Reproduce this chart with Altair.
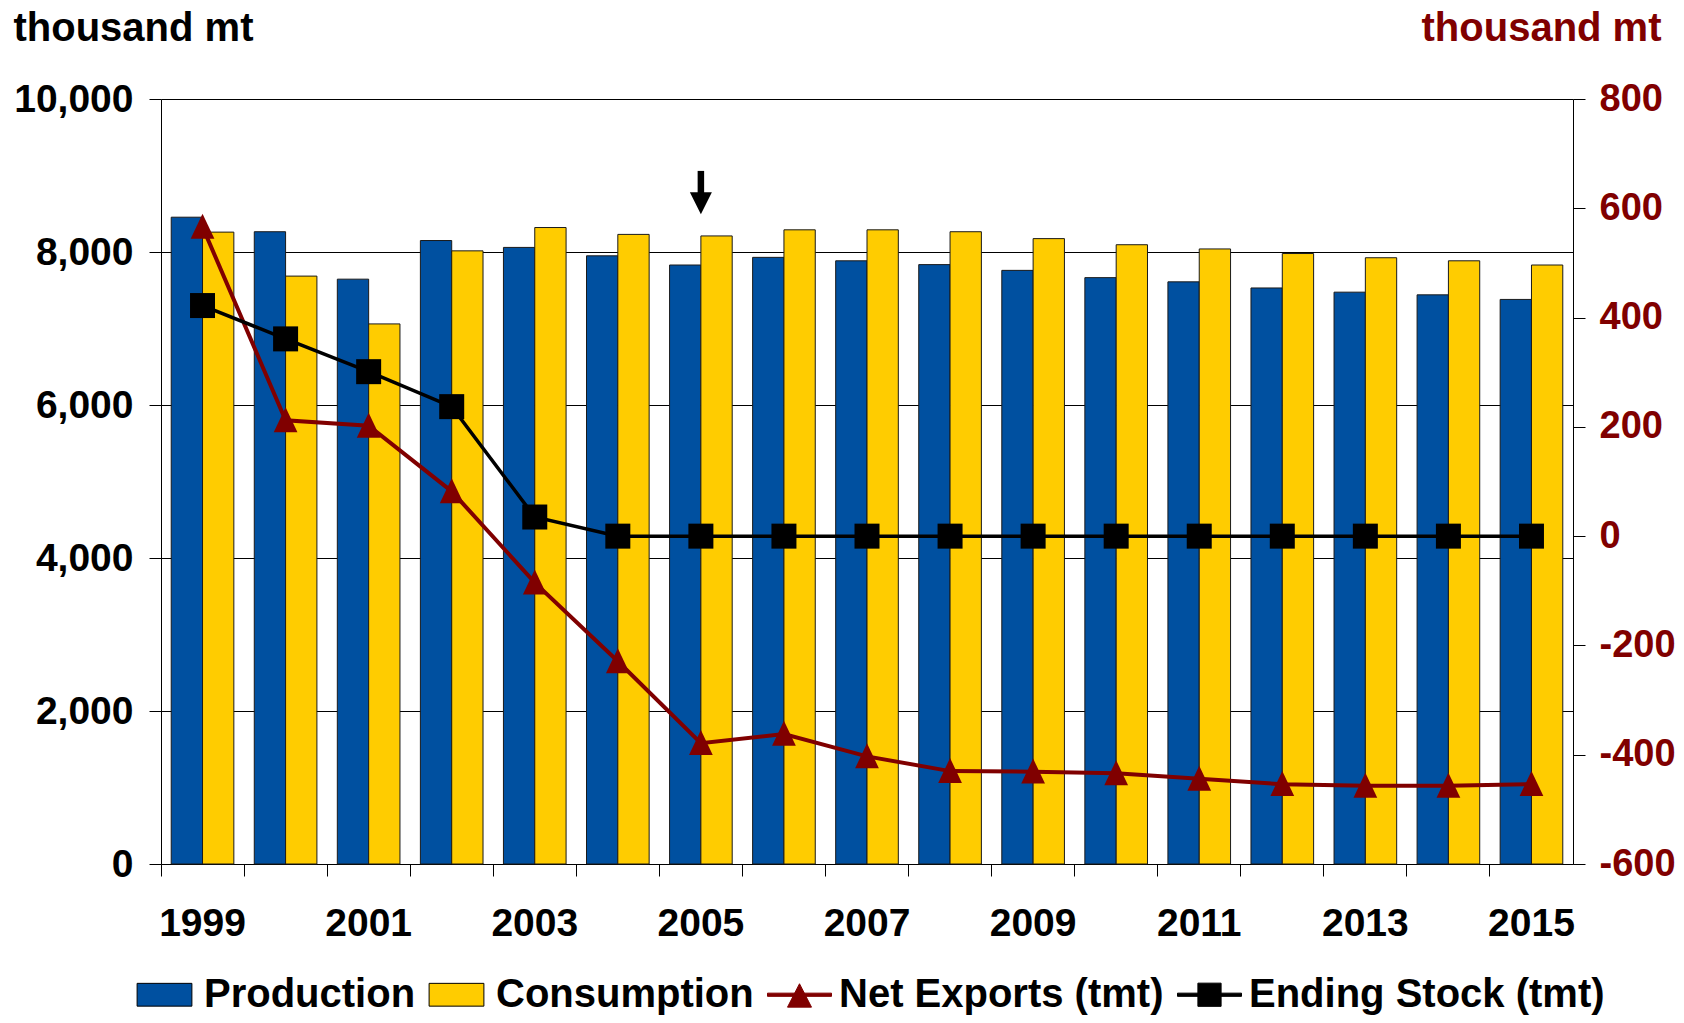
import altair as alt
import pandas as pd

# ---------------- data ----------------
years = [str(y) for y in range(1999, 2016)]
production = [8455, 8265, 7645, 8150, 8060, 7950, 7830, 7930, 7885, 7835, 7760, 7665, 7610, 7530, 7475, 7440, 7380]
consumption = [8260, 7685, 7060, 8015, 8320, 8230, 8210, 8290, 8290, 8265, 8175, 8095, 8040, 7980, 7925, 7885, 7830]
net_exports = [566, 212, 202, 82, -85, -229, -379, -362, -403, -430, -431, -434, -444, -454, -457, -457, -454]
ending_stock = [422, 361, 301, 237, 35, 0, 0, 0, 0, 0, 0, 0, 0, 0, 0, 0, 0]
bar_series = ["Production", "Consumption"]
legend_series = ["Production", "Consumption", "Net Exports (tmt)", "Ending Stock (tmt)"]
left_ticks = [0, 2000, 4000, 6000, 8000, 10000]
right_ticks = [-600, -400, -200, 0, 200, 400, 600, 800]
arrow_year = ["2005"]
arrow_top = [9060]
arrow_base = [8700]
arrow_tip = [8638]

BLUE = "#0050A0"
YELLOW = "#FFCC00"
RED = "#800000"
BLACK = "#000000"
FONT = "Liberation Sans"

W, H = 1412, 765

bars_df = pd.DataFrame({
    "year": years * 2,
    "series": [bar_series[0]] * len(years) + [bar_series[1]] * len(years),
    "value": production + consumption,
})
lines_df = pd.DataFrame({"year": years, "net": net_exports, "stock": ending_stock})
arrow_df = pd.DataFrame({"year": arrow_year, "top": arrow_top, "base": arrow_base, "tip": arrow_tip})
legend_df = pd.DataFrame({"series": legend_series})

# ---------------- encodings ----------------
x_enc = alt.X(
    "year:N",
    title=None,
    scale=alt.Scale(domain=years, paddingInner=0, paddingOuter=0),
    axis=alt.Axis(
        bandPosition=0,
        labelExpr="toNumber(datum.label) % 2 == 1 ? datum.label : ''",
        tickSize=12, labelPadding=28, labelAngle=0, labelOverlap=False,
        labelFontSize=39, labelFontWeight="bold", labelColor=BLACK,
        domainColor=BLACK, tickColor=BLACK, grid=False,
    ),
)

left_scale = alt.Scale(domain=[0, 10000], nice=False, zero=False)
right_scale = alt.Scale(domain=[-600, 800], nice=False, zero=False)

left_axis = alt.Axis(
    orient="left", values=left_ticks, labelExpr="format(datum.value, ',')",
    tickSize=12, labelPadding=16,
    grid=True, gridColor=BLACK, gridWidth=1, gridOpacity=1,
    domainColor=BLACK, tickColor=BLACK,
    labelFontSize=39, labelFontWeight="bold", labelColor=BLACK,
    title="thousand mt", titleAngle=0, titleAlign="left", titleBaseline="alphabetic",
    titleX=-148, titleY=-59, titleFontSize=40, titleFontWeight="bold", titleColor=BLACK,
)
right_axis = alt.Axis(
    orient="right", values=right_ticks, labelExpr="toString(datum.value)",
    tickSize=12, labelPadding=14, grid=False,
    domainColor=BLACK, tickColor=BLACK,
    labelFontSize=38, labelFontWeight="bold", labelColor=RED,
    title="thousand mt", titleAngle=0, titleAlign="right", titleBaseline="alphabetic",
    titleX=88, titleY=-59, titleFontSize=40, titleFontWeight="bold", titleColor=RED,
)

# ---------------- bars + arrow (left axis) ----------------
bars = alt.Chart(bars_df).mark_bar(stroke="#1a1a1a", strokeWidth=1).encode(
    x=x_enc,
    xOffset=alt.XOffset("series:N", scale=alt.Scale(domain=bar_series, paddingInner=0, paddingOuter=0.326)),
    y=alt.Y("value:Q", scale=left_scale, axis=left_axis),
    color=alt.Color("series:N", scale=alt.Scale(domain=bar_series, range=[BLUE, YELLOW]), legend=None),
)
arrow_rule = alt.Chart(arrow_df).mark_rule(color=BLACK, strokeWidth=6.5).encode(
    x=x_enc,
    y=alt.Y("top:Q", scale=left_scale, axis=left_axis),
    y2="base:Q",
)
arrow_head = alt.Chart(arrow_df).mark_point(
    shape="M-1,-1H1L0,1Z", size=484, filled=True, color=BLACK, opacity=1
).encode(
    x=x_enc,
    y=alt.Y("tip:Q", scale=left_scale, axis=left_axis),
)
bar_group = alt.layer(bars, arrow_rule, arrow_head)

# ---------------- lines (right axis) ----------------
net_line = alt.Chart(lines_df).mark_line(color=RED, strokeWidth=4).encode(
    x=x_enc, y=alt.Y("net:Q", scale=right_scale, axis=right_axis),
)
net_pts = alt.Chart(lines_df).mark_point(
    shape="M0,-1.05L0.95,0.95L-0.95,0.95Z", size=625, filled=True, color=RED, opacity=1
).encode(x=x_enc, y=alt.Y("net:Q", scale=right_scale, axis=right_axis))
stock_line = alt.Chart(lines_df).mark_line(color=BLACK, strokeWidth=3.5).encode(
    x=x_enc, y=alt.Y("stock:Q", scale=right_scale, axis=right_axis),
)
stock_pts = alt.Chart(lines_df).mark_point(
    shape="square", size=625, filled=True, color=BLACK, opacity=1
).encode(x=x_enc, y=alt.Y("stock:Q", scale=right_scale, axis=right_axis))
line_group = alt.layer(net_line, net_pts, stock_line, stock_pts)

# ---------------- legend ----------------
legend_shapes = [
    "M-1.37,-0.57H1.37V0.57H-1.37Z",
    "M-1.37,-0.57H1.37V0.57H-1.37Z",
    "M-1.6,-0.08H1.6V0.08H-1.6Z M0,-0.55L0.6,0.62L-0.6,0.62Z",
    "M-1.6,-0.08H1.6V0.08H-1.6Z M-0.58,-0.58H0.58V0.58H-0.58Z",
]
leg = alt.Legend(
    title=None, orient="none", legendX=-17, legendY=875, direction="horizontal",
    columns=4, symbolSize=1600, symbolStrokeWidth=1, symbolOpacity=1,
    labelFontSize=40, labelFontWeight="bold", labelColor=BLACK, labelFont=FONT,
    labelOffset=19, columnPadding=11, padding=0, labelLimit=600,
)
legend_layer = alt.Chart(legend_df).mark_point(filled=True, opacity=1, strokeWidth=1).encode(
    fill=alt.Fill("series:N", scale=alt.Scale(domain=legend_series, range=[BLUE, YELLOW, RED, BLACK]), legend=leg),
    stroke=alt.Stroke("series:N", scale=alt.Scale(domain=legend_series, range=[BLACK, BLACK, RED, BLACK]), legend=leg),
    shape=alt.Shape("series:N", scale=alt.Scale(domain=legend_series, range=legend_shapes), legend=leg),
).transform_filter("false")

chart = (
    alt.layer(bar_group, line_group, legend_layer)
    .resolve_scale(y="independent")
    .properties(width=W, height=H, background="white",
                padding={"left": 5, "top": 0, "right": 0, "bottom": 0})
    .configure(font=FONT)
    .configure_view(stroke=None)
    .configure_axis(labelFont=FONT, titleFont=FONT)
)

chart.save("out.html", embed_options={"renderer": "svg", "actions": False})
